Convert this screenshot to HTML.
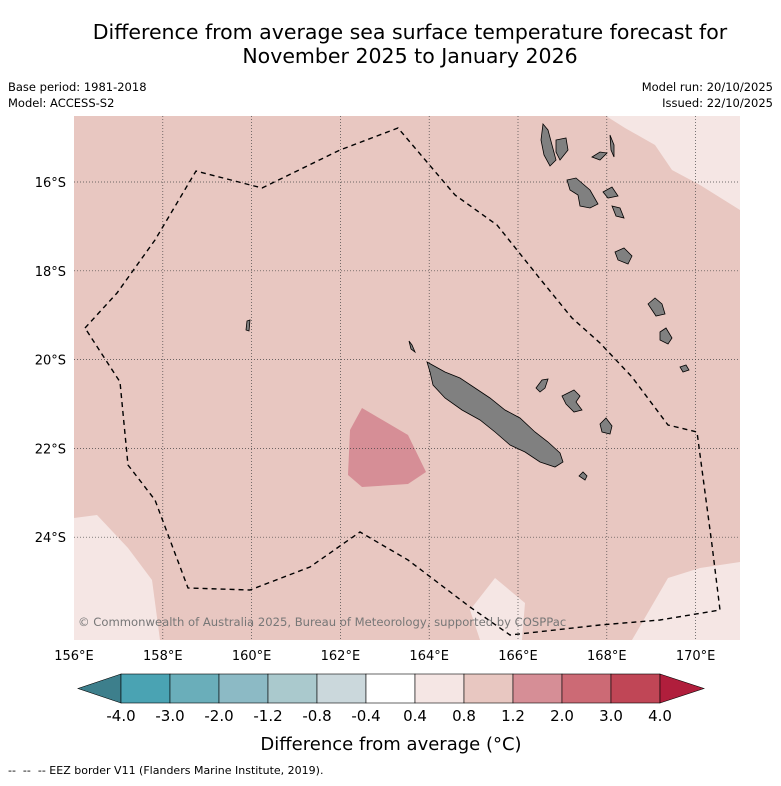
<!DOCTYPE html>
<html><head><meta charset="utf-8"><style>
body{margin:0;background:#fff;width:781px;height:781px;overflow:hidden;font-family:"Liberation Sans","DejaVu Sans",sans-serif}
svg text{font-family:"DejaVu Sans","Liberation Sans",sans-serif}
</style></head><body>
<svg id="s" width="781" height="781" viewBox="0 0 781 781">
<text x="410" y="39" text-anchor="middle" font-size="20.5">Difference from average sea surface temperature forecast for</text>
<text x="410" y="63" text-anchor="middle" font-size="20.5">November 2025 to January 2026</text>
<text x="8" y="91" font-size="11.5">Base period: 1981-2018</text>
<text x="8" y="107" font-size="11.5">Model: ACCESS-S2</text>
<text x="773" y="91" font-size="11.5" text-anchor="end">Model run: 20/10/2025</text>
<text x="773" y="107" font-size="11.5" text-anchor="end">Issued: 22/10/2025</text>
<defs><clipPath id="mc"><rect x="74" y="116" width="666" height="524"/></clipPath></defs>
<g clip-path="url(#mc)">
<rect x="74" y="116" width="666" height="524" fill="#e8c7c1"/>
<polygon fill="#f5e6e4" points="606,116 740,116 740,210 700,185 672,170 655,145 625,128"/>
<polygon fill="#f5e6e4" points="74,518 97,515 128,548 152,580 160,640 74,640"/>
<polygon fill="#f5e6e4" points="470,610 495,578 525,603 522,640 480,640"/>
<polygon fill="#f5e6e4" points="632,640 668,578 700,568 740,562 740,640"/>
<polygon fill="#d68e96" points="362,408 408,435 426,472 408,484 362,487 348,475 350,430"/>
<g id="grid"></g>
<g fill="#808080" stroke="#000" stroke-width="0.8">
<polygon points="427,362 445,372 460,378 475,388 490,398 505,410 520,418 535,432 548,442 560,453 563,462 555,467 540,462 525,452 510,445 495,432 480,420 462,410 445,398 433,385 430,372"/>
<polygon points="543,124 548,130 552,145 556,160 550,166 544,155 541,140"/>
<polygon points="556,140 566,138 568,150 560,160 556,152"/>
<polygon points="592,157 600,152 607,153 600,160"/>
<polygon points="610,135 614,145 614,157 611,150"/>
<polygon points="567,180 576,178 590,190 598,204 590,208 580,206 578,195 570,190"/>
<polygon points="603,192 612,187 618,196 608,198"/>
<polygon points="612,206 620,208 624,218 616,216"/>
<polygon points="615,252 624,248 632,256 628,264 618,260"/>
<polygon points="648,304 655,298 662,304 665,314 656,316"/>
<polygon points="660,332 666,328 672,338 668,344 660,340"/>
<polygon points="680,367 686,365 689,370 683,372"/>
<polygon points="579,476 583,472 587,476 585,480"/>
<polygon points="562,396 574,390 580,396 576,402 582,410 574,412 566,404"/>
<polygon points="600,424 606,418 612,426 610,434 602,432"/>
<polygon points="536,388 542,380 548,379 545,388 540,392"/>
<polygon points="247,321 250,320 249,331 246,330"/>
<polygon points="409,341 412,345 415,352 411,349"/>
</g>
<polyline fill="none" stroke="#000" stroke-width="1.4" stroke-dasharray="5,4" points="85,328 117,293 155,240 196,171 262,188 340,150 398,128 455,195 497,225 541,280 572,318 600,343 632,377 668,425 697,432 712,545 720,610 660,620 600,625 510,635 470,607 408,560 360,532 310,567 250,590 188,588 155,500 128,465 120,382 85,328"/>
<text x="78" y="626" font-size="11.6" fill="#777">© Commonwealth of Australia 2025, Bureau of Meteorology, supported by COSPPac</text>
</g>
<g id="axes"></g>
<g id="cbar"></g>
<text x="391" y="750" text-anchor="middle" font-size="18">Difference from average (°C)</text>
<text x="8" y="774" font-size="11" xml:space="preserve">--  --  -- EEZ border V11 (Flanders Marine Institute, 2019).</text>
</svg>
<script>
const lonTicks=[156,158,160,162,164,166,168,170];
const latTicks=[16,18,20,22,24];
const cbLabels=["-4.0","-3.0","-2.0","-1.2","-0.8","-0.4","0.4","0.8","1.2","2.0","3.0","4.0"];
const cbColors=["#4aa3b3","#6aaeba","#8cbac5","#aac9cd","#cbd8dc","#ffffff","#f5e6e4","#e8c7c1","#d68e96","#cc6a75","#c04656"];
const ns="http://www.w3.org/2000/svg";
const X=l=>74+(l-156)*44.4, Y=l=>182+(l-16)*44.4;
function mk(t,a,p){const e=document.createElementNS(ns,t);for(const k in a)e.setAttribute(k,a[k]);p.appendChild(e);return e;}
const g=document.getElementById('grid'),ax=document.getElementById('axes'),cb=document.getElementById('cbar');
lonTicks.forEach(l=>{if(l>156){const ln=mk('line',{x1:X(l),x2:X(l),y1:116,y2:640,stroke:'#444','stroke-width':0.7,'stroke-dasharray':'1,2'},g);
}
const t=mk('text',{x:X(l),y:660,'text-anchor':'middle','font-size':13},ax);t.textContent=l+'°E';
});
latTicks.forEach(l=>{const ln=mk('line',{x1:74,x2:740,y1:Y(l),y2:Y(l),stroke:'#444','stroke-width':0.7,'stroke-dasharray':'1,2'},g);

const t=mk('text',{x:66,y:Y(l)+5,'text-anchor':'end','font-size':13},ax);t.textContent=l+'°S';
});
const x0=121,w=49,y0=674,h=29;
const lt=mk('polygon',{points:`${x0},${y0} ${x0},${y0+h} 78,${y0+h/2}`,fill:'#3d7f8c',stroke:'#000','stroke-width':0.6},cb);

cbColors.forEach((c,i)=>{const r=mk('rect',{x:x0+i*w,y:y0,width:w,height:h,fill:c,stroke:'#000','stroke-width':0.6},cb);
});
const xe=x0+cbColors.length*w;
const rt=mk('polygon',{points:`${xe},${y0} ${xe},${y0+h} ${xe+44},${y0+h/2}`,fill:'#b01e3c',stroke:'#000','stroke-width':0.6},cb);

cbLabels.forEach((s,i)=>{const t=mk('text',{x:x0+i*w,y:721,'text-anchor':'middle','font-size':15},cb);t.textContent=s;
});
</script>
</body></html>
